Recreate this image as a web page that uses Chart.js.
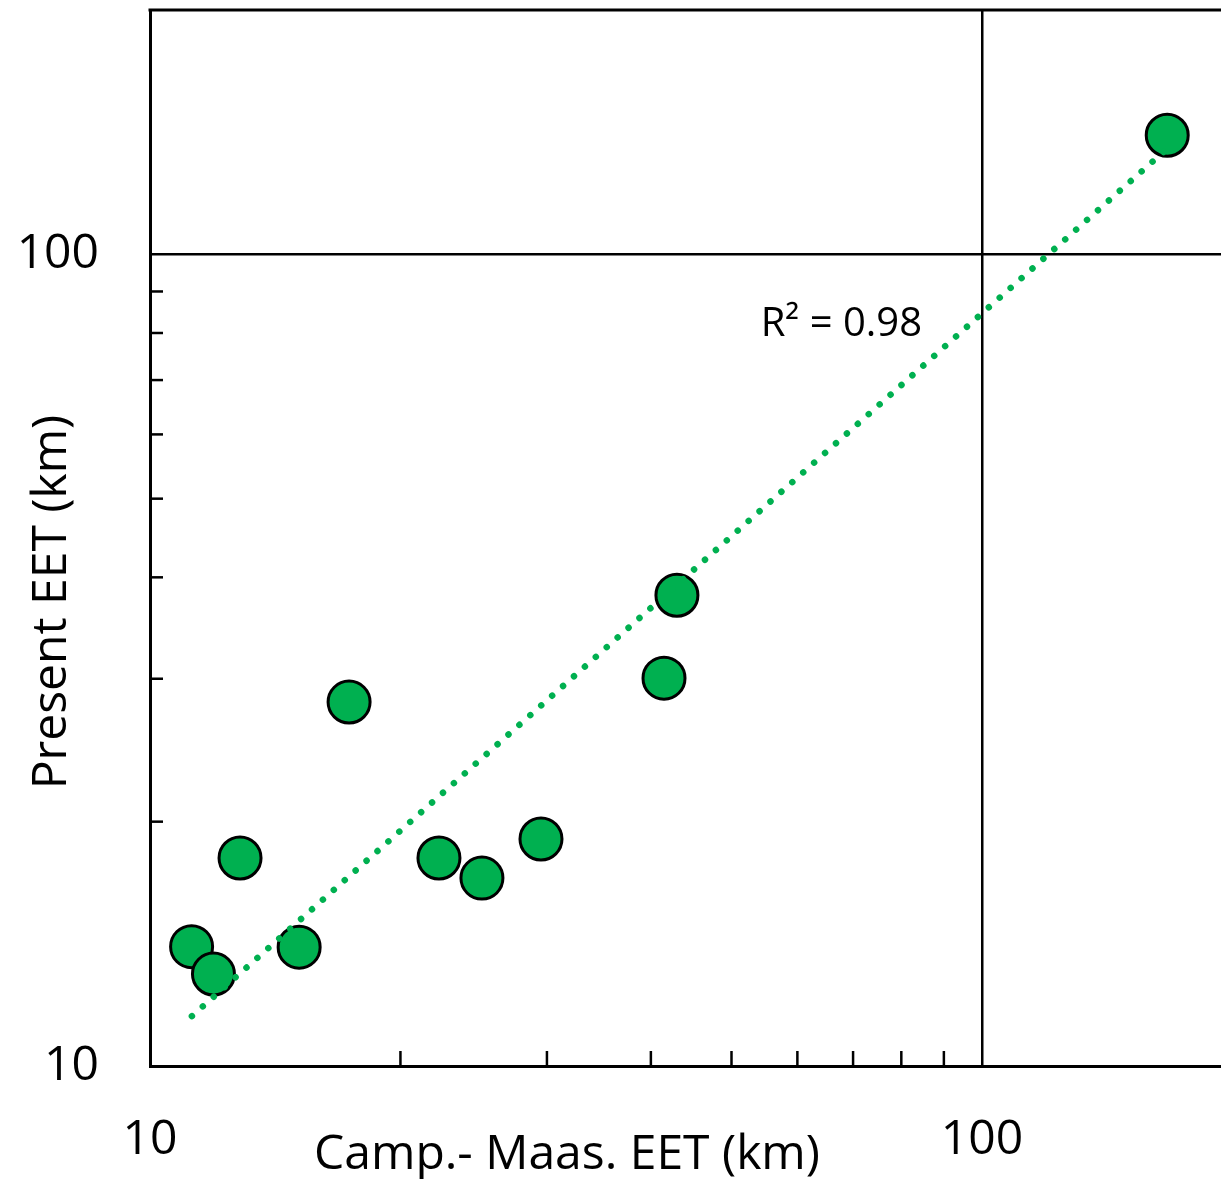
<!DOCTYPE html>
<html>
<head>
<meta charset="utf-8">
<script src="https://cdn.jsdelivr.net/npm/chart.js@4.4.0/dist/chart.umd.min.js"></script>
<style>
  html, body { margin: 0; padding: 0; background: #fff; overflow: hidden; }
  #wrap { width: 1221px; height: 1179px; }
</style>
</head>
<body>
<div id="wrap"><canvas id="eetChart" width="1221" height="1179"></canvas></div>
<script>
// Valores (km)
const campMaasEET = [11.22, 11.92, 12.83, 15.11, 17.35, 22.25, 25.06, 29.51, 41.48, 42.99, 167.0];
const presentEET = [14.03, 12.98, 18.04, 14.01, 28.08, 18.04, 17.04, 19.04, 30.05, 38.02, 140.2];

// Linha de tendência (potência) - extremos
const trendX = [11.23, 166.9];
const trendY = [11.52, 134.9];

// Eixos
const xRange = [10, 193.8];
const yRange = [10, 200];
const labeledTicks = [10, 100];
const minorTicks = [20, 30, 40, 50, 60, 70, 80, 90];

// Textos
const xTitle = 'Camp.- Maas. EET (km)';
const yTitle = 'Present EET (km)';
const r2Label = 'R\u00b2 = 0.98';

const verde = '#00B050';
const fonte = "'Open Sans', 'Noto Sans', sans-serif";

Chart.defaults.font.family = fonte;
Chart.defaults.color = '#000';

// Desenha marcas menores, borda superior, títulos e o R²
const extras = {
    id: 'extras',
    afterDraw(chart) {
        const { ctx, chartArea: area, scales } = chart;
        const x = scales.x;
        const y = scales.y;
        ctx.save();
        ctx.strokeStyle = '#000';

        // borda superior
        ctx.lineWidth = 3;
        ctx.beginPath();
        ctx.moveTo(area.left - 1.5, area.top);
        ctx.lineTo(area.right, area.top);
        ctx.stroke();

        // marcas menores (para dentro)
        ctx.lineWidth = 2.5;
        minorTicks.forEach(v => {
            const px = x.getPixelForValue(v);
            ctx.beginPath();
            ctx.moveTo(px, area.bottom);
            ctx.lineTo(px, area.bottom - 15);
            ctx.stroke();
            const py = y.getPixelForValue(v);
            ctx.beginPath();
            ctx.moveTo(area.left, py);
            ctx.lineTo(area.left + 13, py);
            ctx.stroke();
        });

        // títulos dos eixos
        ctx.fillStyle = '#000';
        ctx.font = `48px ${fonte}`;
        ctx.textAlign = 'center';
        ctx.textBaseline = 'alphabetic';
        ctx.fillText(xTitle, area.left + 417, area.bottom + 103);

        ctx.save();
        ctx.translate(66, (area.top + area.bottom) / 2 + 64);
        ctx.rotate(-Math.PI / 2);
        ctx.fillText(yTitle, 0, 0);
        ctx.restore();

        // R²
        ctx.font = `40px ${fonte}`;
        ctx.textAlign = 'left';
        ctx.fillText(r2Label, x.getPixelForValue(54.2), y.getPixelForValue(79.4));
        ctx.restore();
    }
};

const eixoCor = (c) => (c.tick && c.tick.value === 100 ? '#000' : 'rgba(0,0,0,0)');

// tamanho fixo dos eixos, sem folga extra para rótulos
const semFolga = (s) => {
    s.paddingTop = 0;
    s.paddingBottom = 0;
    s.paddingLeft = 0;
    s.paddingRight = 0;
};

new Chart(document.getElementById('eetChart'), {
    type: 'scatter',
    data: {
        datasets: [
            {
                label: 'Tendência',
                data: trendX.map((v, i) => ({ x: v, y: trendY[i] })),
                showLine: true,
                borderColor: verde,
                borderWidth: 6.5,
                borderDash: [0.01, 14.6],
                borderCapStyle: 'round',
                pointRadius: 0,
                fill: false
            },
            {
                label: 'EET',
                data: campMaasEET.map((v, i) => ({ x: v, y: presentEET[i] })),
                backgroundColor: verde,
                borderColor: '#000',
                borderWidth: 3,
                pointRadius: 21,
                pointHoverRadius: 21
            }
        ]
    },
    options: {
        responsive: false,
        devicePixelRatio: 1,
        animation: false,
        layout: { autoPadding: false, padding: { top: 10, left: 0, right: 0, bottom: 0 } },
        plugins: {
            legend: { display: false },
            tooltip: { enabled: false }
        },
        scales: {
            x: {
                type: 'logarithmic',
                min: xRange[0],
                max: xRange[1],
                afterFit: (s) => { s.height = 113; semFolga(s); },
                border: { display: true, color: '#000', width: 3 },
                grid: { color: eixoCor, lineWidth: 2.5, drawTicks: false },
                ticks: {
                    font: { size: 48 },
                    padding: 46,
                    maxRotation: 0,
                    autoSkip: false,
                    callback: (v) => (labeledTicks.includes(v) ? String(v) : null)
                }
            },
            y: {
                type: 'logarithmic',
                min: yRange[0],
                max: yRange[1],
                afterFit: (s) => { s.width = 150; semFolga(s); },
                border: { display: true, color: '#000', width: 3 },
                grid: { color: eixoCor, lineWidth: 2.5, drawTicks: false },
                ticks: {
                    font: { size: 48 },
                    padding: 51,
                    autoSkip: false,
                    callback: (v) => (labeledTicks.includes(v) ? String(v) : null)
                }
            }
        }
    },
    plugins: [extras]
});
</script>
</body>
</html>
